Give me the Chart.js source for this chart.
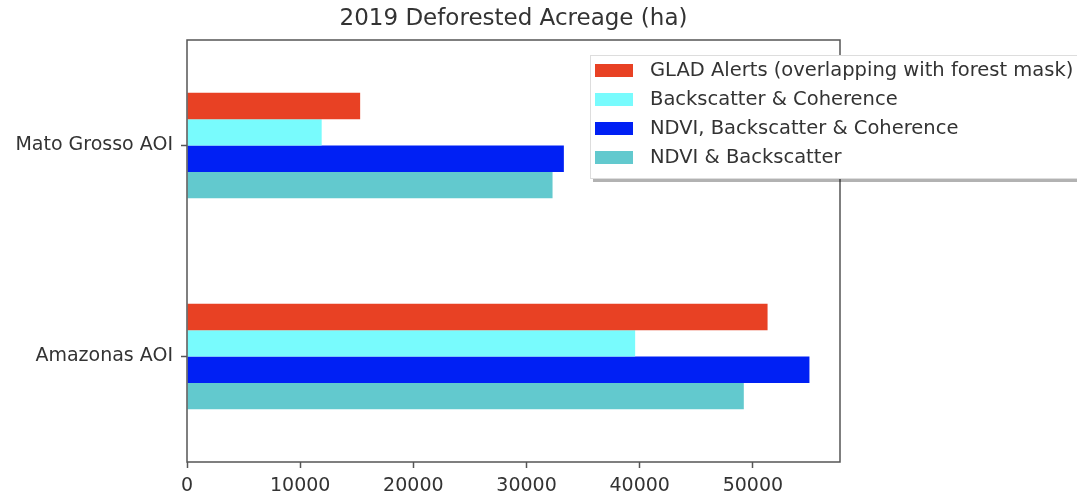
<!DOCTYPE html>
<html>
<head>
<meta charset="utf-8">
<script src="https://cdn.jsdelivr.net/npm/chart.js@4/dist/chart.umd.min.js"></script>
<style>
  html, body { margin: 0; padding: 0; background: #fff; }
  #wrap { width: 1077px; height: 498px; }
</style>
</head>
<body>
<div id="wrap"><canvas id="barChart" width="1077" height="498"></canvas></div>
<script>
// data
var categories = ['Mato Grosso AOI', 'Amazonas AOI'];
var seriesNames = [
    'GLAD Alerts (overlapping with forest mask)',
    'Backscatter & Coherence',
    'NDVI, Backscatter & Coherence',
    'NDVI & Backscatter'
];
var gladAlerts = [15300, 51300];
var backscatterCoherence = [11900, 39600];
var ndviBackscatterCoherence = [33300, 55000];
var ndviBackscatter = [32300, 49200];
var xTicks = [0, 10000, 20000, 30000, 40000, 50000];
var chartTitle = '2019 Deforested Acreage (ha)';

var colors = ['#e84124', '#78fbfd', '#0020f4', '#62c9ce'];
var axisColor = '#555';
var textColor = '#333';
var fontFamily = '"DejaVu Sans", sans-serif';

// title over plot area, frame, and overlapping legend box like matplotlib
var framePlugin = {
    id: 'frame',
    afterDatasetsDraw: function (chart) {
        var a = chart.chartArea, ctx = chart.ctx;
        ctx.save();
        ctx.strokeStyle = axisColor;
        ctx.lineWidth = 1.5;
        ctx.strokeRect(a.left, a.top, a.right - a.left, a.bottom - a.top);
        ctx.restore();
    },
    afterDraw: function (chart) {
        var ctx = chart.ctx, a = chart.chartArea;
        ctx.save();
        // title
        ctx.fillStyle = textColor;
        ctx.font = '23px ' + fontFamily;
        ctx.textAlign = 'center';
        ctx.textBaseline = 'middle';
        ctx.fillText(chartTitle, (a.left + a.right) / 2, 19);
        // legend
        var x = 590, y = 55, w = 490, h = 123;
        ctx.fillStyle = 'rgba(0,0,0,0.3)';
        ctx.fillRect(x + 3, y + 4, w, h);
        ctx.fillStyle = '#fff';
        ctx.fillRect(x, y, w, h);
        ctx.strokeStyle = '#ddd';
        ctx.lineWidth = 1;
        ctx.strokeRect(x + 0.5, y + 0.5, w, h);
        ctx.font = '19.5px ' + fontFamily;
        ctx.textAlign = 'left';
        chart.data.datasets.forEach(function (ds, i) {
            var ry = 71 + i * 29;
            ctx.fillStyle = ds.backgroundColor;
            ctx.fillRect(595, ry - 7, 38, 13);
            ctx.fillStyle = textColor;
            ctx.fillText(ds.label, 650, ry);
        });
        ctx.restore();
    }
};

var ctx = document.getElementById('barChart').getContext('2d');
var barChart = new Chart(ctx, {
    type: 'bar',
    data: {
        labels: categories,
        datasets: [
            { label: seriesNames[0], data: gladAlerts, backgroundColor: colors[0] },
            { label: seriesNames[1], data: backscatterCoherence, backgroundColor: colors[1] },
            { label: seriesNames[2], data: ndviBackscatterCoherence, backgroundColor: colors[2] },
            { label: seriesNames[3], data: ndviBackscatter, backgroundColor: colors[3] }
        ]
    },
    options: {
        indexAxis: 'y',
        responsive: false,
        animation: false,
        categoryPercentage: 0.5,
        barPercentage: 1.0,
        layout: { padding: { left: 0, right: 237, top: 40, bottom: 0 } },
        plugins: {
            legend: { display: false },
            tooltip: { enabled: false },
            title: { display: false }
        },
        scales: {
            x: {
                min: 0,
                max: 57700,
                afterBuildTicks: function (scale) {
                    scale.ticks = xTicks.map(function (v) { return { value: v }; });
                },
                afterFit: function (scale) { scale.height = 36; },
                ticks: {
                    color: textColor,
                    font: { family: fontFamily, size: 19 },
                    padding: 7,
                    maxRotation: 0,
                    callback: function (v) { return String(v); }
                },
                grid: { drawOnChartArea: false, tickLength: 6, tickColor: axisColor, tickWidth: 1.5 },
                border: { display: false }
            },
            y: {
                afterFit: function (scale) { scale.width = 187; },
                ticks: {
                    color: textColor,
                    font: { family: fontFamily, size: 19 },
                    padding: 8
                },
                grid: { offset: false, drawOnChartArea: false, tickLength: 6, tickColor: axisColor, tickWidth: 1.5 },
                border: { display: false }
            }
        }
    },
    plugins: [framePlugin]
});
</script>
</body>
</html>
